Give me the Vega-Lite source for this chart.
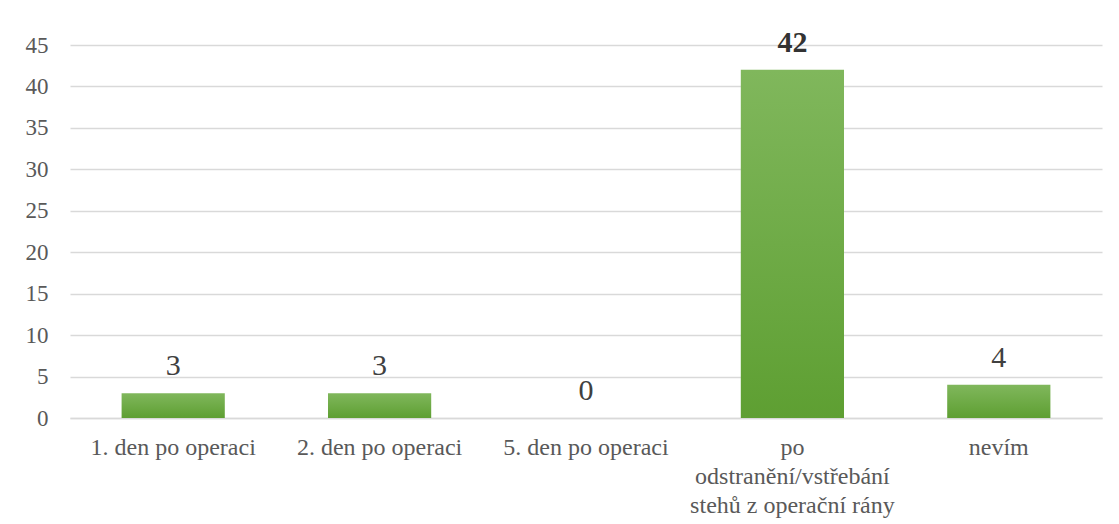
{
  "$schema": "https://vega.github.io/schema/vega-lite/v6.json",
  "width": 1032,
  "height": 373,
  "autosize": {"type": "none"},
  "padding": {"left": 70, "top": 45, "right": 17, "bottom": 106},
  "background": "white",
  "config": {
    "view": {"stroke": null},
    "font": "Times New Roman, Liberation Serif, DejaVu Serif, serif",
    "axis": {"labelFont": "Times New Roman, Liberation Serif, DejaVu Serif, serif"},
    "text": {"font": "Times New Roman, Liberation Serif, DejaVu Serif, serif"}
  },
  "data": {
    "values": [
      {"kategorie": "1. den po operaci", "pocet": 3, "tucne": 0},
      {"kategorie": "2. den po operaci", "pocet": 3, "tucne": 0},
      {"kategorie": "5. den po operaci", "pocet": 0, "tucne": 0},
      {"kategorie": "po odstranění/vstřebání stehů z operační rány", "pocet": 42, "tucne": 1},
      {"kategorie": "nevím", "pocet": 4, "tucne": 0}
    ]
  },
  "encoding": {
    "x": {
      "field": "kategorie",
      "type": "nominal",
      "sort": null,
      "scale": {"paddingInner": 0.5, "paddingOuter": 0.25},
      "axis": {
        "title": null,
        "labelAngle": 0,
        "labelFontSize": 24,
        "labelColor": "#595959",
        "labelPadding": 17,
        "labelBaseline": "top",
        "labelLineHeight": 29,
        "labelLimit": 400,
        "ticks": false,
        "domainColor": "#d9d9d9",
        "domainWidth": 1.5,
        "labelExpr": "datum.label == 'po odstranění/vstřebání stehů z operační rány' ? ['po', 'odstranění/vstřebání', 'stehů z operační rány'] : datum.label"
      }
    },
    "y": {
      "field": "pocet",
      "type": "quantitative",
      "scale": {"domain": [0, 45]},
      "axis": {
        "title": null,
        "values": [0, 5, 10, 15, 20, 25, 30, 35, 40, 45],
        "labelFontSize": 23,
        "labelColor": "#595959",
        "labelPadding": 22,
        "ticks": false,
        "domain": false,
        "gridColor": "#d9d9d9",
        "gridWidth": 1.5
      }
    }
  },
  "layer": [
    {
      "mark": {
        "type": "bar",
        "color": {
          "gradient": "linear",
          "x1": 0, "y1": 0, "x2": 0, "y2": 1,
          "stops": [
            {"offset": 0, "color": "#80b75c"},
            {"offset": 1, "color": "#5e9f32"}
          ]
        }
      }
    },
    {
      "transform": [{"filter": "datum.tucne == 0"}],
      "mark": {
        "type": "text",
        "dy": -18,
        "baseline": "alphabetic",
        "fontSize": 30,
        "color": "#404040"
      },
      "encoding": {
        "text": {"field": "pocet", "type": "quantitative"}
      }
    },
    {
      "transform": [{"filter": "datum.tucne == 1"}],
      "mark": {
        "type": "text",
        "dy": -18,
        "baseline": "alphabetic",
        "fontSize": 30,
        "fontWeight": "bold",
        "color": "#333333"
      },
      "encoding": {
        "text": {"field": "pocet", "type": "quantitative"}
      }
    }
  ]
}
